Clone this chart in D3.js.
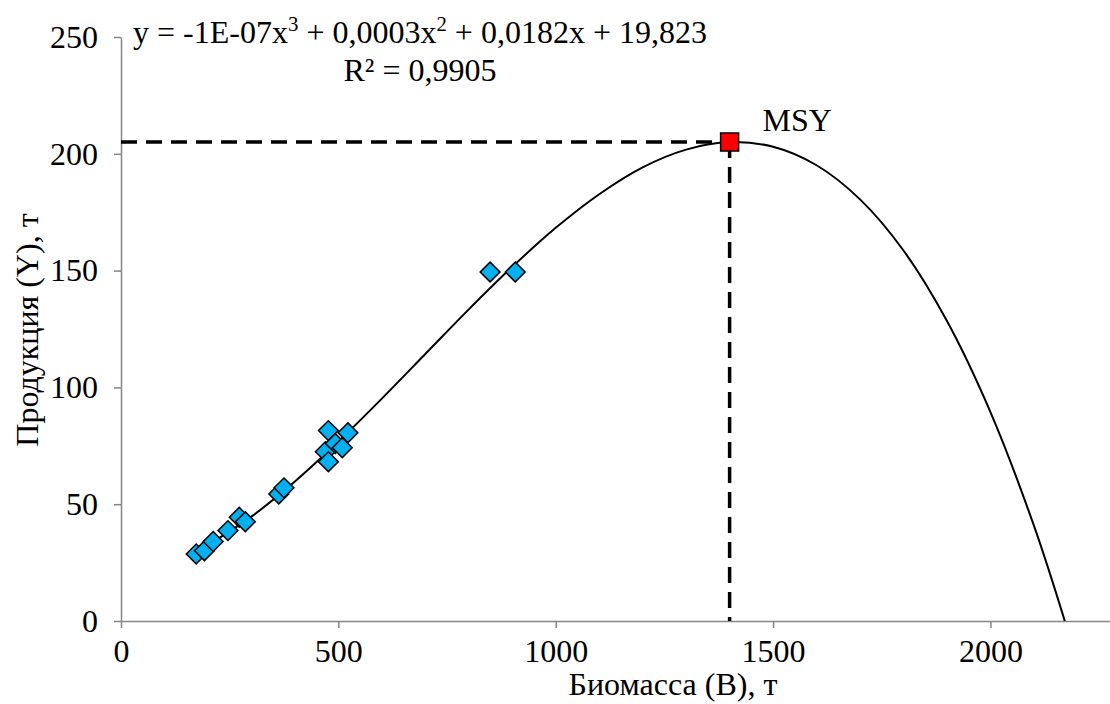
<!DOCTYPE html>
<html><head><meta charset="utf-8">
<script src="https://cdn.jsdelivr.net/npm/d3@7"></script>
<style>body{margin:0;background:#fff}</style>
</head><body>
<svg id="chart" width="1110" height="704"></svg>
<script>
// Observed data: biomass (B, t) and production (Y, t)
const biomass    = [173, 192, 212, 246, 272, 286, 363, 375, 470, 477, 477, 493, 509, 522, 849, 907];
const production = [28.7, 30.1, 34.0, 38.7, 44.4, 42.5, 54.4, 57.0, 72.5, 81.5, 68.2, 76.0, 74.2, 80.6, 149.4, 149.4];

// Trend line (polynomial, order 3)
const trendB = [173, 200, 300, 400, 500, 600, 700, 800, 900, 1000, 1100, 1200, 1300, 1400, 1500, 1600, 1700, 1800, 1900, 2000, 2100, 2171];
const trendY = [30.0, 32.6, 44.7, 59.7, 76.8, 95.2, 114.3, 133.4, 151.6, 168.3, 182.7, 194.2, 201.8, 205.0, 203.0, 195.1, 180.5, 158.6, 128.4, 89.4, 40.8, 0];

// MSY point
const msyB = [1400];
const msyY = [205];
const msyLabel = ["MSY"];

// Axis ticks
const xTicks = [0, 500, 1000, 1500, 2000];
const yTicks = [0, 50, 100, 150, 200, 250];

const eqLine1 = ["y = -1E-07x", "3", " + 0,0003x", "2", " + 0,0182x + 19,823"];
const eqLine2 = "R² = 0,9905";
const xTitle = "Биомасса (B), т";
const yTitle = "Продукция (Y), т";

const FONT = "'Liberation Serif','Times New Roman',serif";
const FS = 32;
const svg = d3.select("#chart");

const x = d3.scaleLinear().domain([0, 2275]).range([121, 1110]);
const y = d3.scaleLinear().domain([0, 250]).range([621, 37]);

// Axes
const gx = svg.append("g").attr("transform", `translate(0,${y(0)})`)
  .call(d3.axisBottom(x).tickValues(xTicks).tickSize(7).tickSizeOuter(0).tickPadding(11).tickFormat(d3.format("d")));
const gy = svg.append("g").attr("transform", `translate(${x(0)},0)`)
  .call(d3.axisLeft(y).tickValues(yTicks).tickSize(7).tickSizeOuter(0).tickPadding(16).tickFormat(d3.format("d")));
[gx, gy].forEach(g => {
  g.selectAll("path.domain").attr("stroke", "#868686").attr("stroke-width", 1.5);
  g.selectAll(".tick line").attr("stroke", "#868686").attr("stroke-width", 1.5);
  g.selectAll(".tick text").attr("fill", "#000").style("font-family", FONT).style("font-size", FS + "px");
});

// Dashed MSY guides
svg.append("line")
  .attr("x1", x(0)).attr("x2", x(msyB[0])).attr("y1", y(msyY[0])).attr("y2", y(msyY[0]))
  .attr("stroke", "#000").attr("stroke-width", 3.5).attr("stroke-dasharray", "16,9");
svg.append("line")
  .attr("x1", x(msyB[0])).attr("x2", x(msyB[0])).attr("y1", y(msyY[0])).attr("y2", y(0))
  .attr("stroke", "#000").attr("stroke-width", 3.5).attr("stroke-dasharray", "16,9");

// Trend line
const trend = trendB.map((b, i) => [b, trendY[i]]);
svg.append("path").datum(trend)
  .attr("fill", "none").attr("stroke", "#000").attr("stroke-width", 2)
  .attr("d", d3.line().x(d => x(d[0])).y(d => y(d[1])).curve(d3.curveCatmullRom.alpha(0.5)));

// Data points (diamonds)
const pts = biomass.map((b, i) => [b, production[i]]);
svg.append("g").selectAll("path").data(pts).join("path")
  .attr("d", d3.symbol(d3.symbolSquare, 196))
  .attr("transform", d => `translate(${x(d[0])},${y(d[1])}) rotate(45)`)
  .attr("fill", "#00B0F0").attr("stroke", "#000").attr("stroke-width", 1.5);

// MSY square
svg.append("g").selectAll("path").data(msyB.map((b, i) => [b, msyY[i]])).join("path")
  .attr("d", d3.symbol(d3.symbolSquare, 324))
  .attr("transform", d => `translate(${x(d[0])},${y(d[1])})`)
  .attr("fill", "#FF0000").attr("stroke", "#000").attr("stroke-width", 1.5);
svg.append("text").attr("x", x(msyB[0]) + 33).attr("y", y(msyY[0]) - 11)
  .style("font-family", FONT).style("font-size", FS + "px").text(msyLabel[0]);

// Equation
const eq = svg.append("text").attr("x", 420).attr("y", 43).attr("text-anchor", "middle")
  .style("font-family", FONT).style("font-size", FS + "px");
eqLine1.forEach((s, i) => {
  const sup = (i === 1 || i === 3);
  const t = eq.append("tspan").text(s);
  if (sup) t.attr("dy", -12).style("font-size", (FS * 0.65) + "px");
  else if (i > 0) t.attr("dy", 12);
});
svg.append("text").attr("x", 420).attr("y", 81).attr("text-anchor", "middle")
  .style("font-family", FONT).style("font-size", FS + "px").text(eqLine2);

// Axis titles
svg.append("text").attr("x", 673).attr("y", 695).attr("text-anchor", "middle")
  .style("font-family", FONT).style("font-size", FS + "px").text(xTitle);
svg.append("text").attr("transform", `translate(38,330) rotate(-90)`).attr("text-anchor", "middle")
  .style("font-family", FONT).style("font-size", FS + "px").text(yTitle);
</script>
</body></html>
